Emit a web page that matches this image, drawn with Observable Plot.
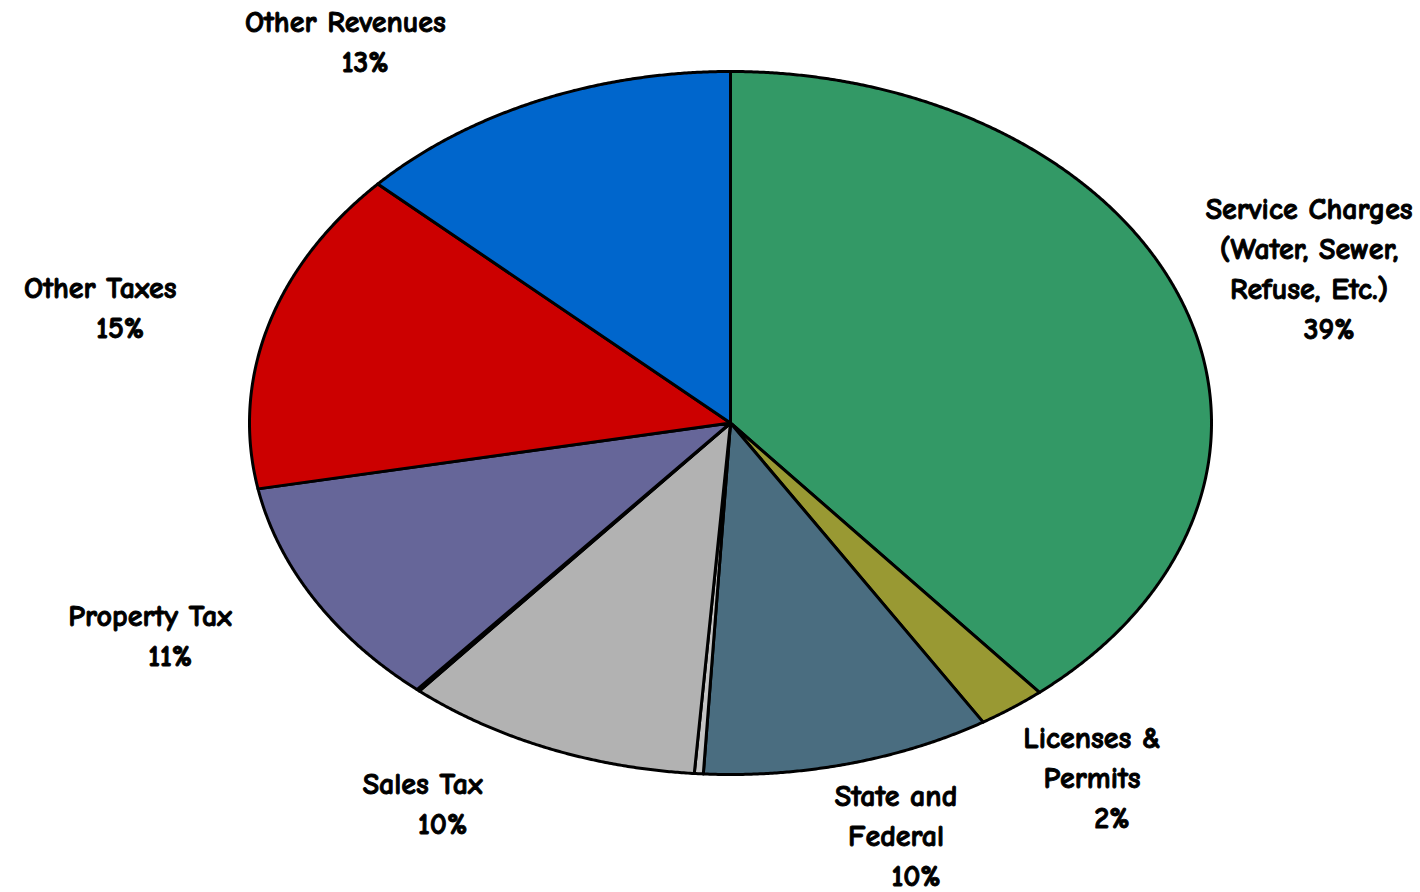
<!DOCTYPE html>
<html>
<head>
<meta charset="utf-8">
<script src="https://cdn.jsdelivr.net/npm/d3@7"></script>
<script src="https://cdn.jsdelivr.net/npm/@observablehq/plot@0.6"></script>
<style>
  html, body { margin: 0; padding: 0; background: #fff; }
  #chart svg { display: block; }
</style>
</head>
<body>
<div id="chart"></div>
<script>
// ---- data ----
const categories = [
  "Service Charges (Water, Sewer, Refuse, Etc.)",
  "Licenses & Permits",
  "State and Federal",
  "Minor 1",
  "Sales Tax",
  "Minor 2",
  "Property Tax",
  "Other Taxes",
  "Other Revenues"
];
const values = [38.9, 2.3, 9.7, 0.3, 10.0, 0.1, 10.7, 14.9, 13.1];
const labelNames = [
  "Service Charges\n(Water, Sewer,\nRefuse, Etc.)",
  "Licenses &\nPermits",
  "State and\nFederal",
  "",
  "Sales Tax",
  "",
  "Property Tax",
  "Other Taxes",
  "Other Revenues"
];
const pctLabels = ["39%", "2%", "10%", "", "10%", "", "11%", "15%", "13%"];
const colors = ["#339966", "#999933", "#4a6d80", "#c4c4c4", "#b2b2b2", "#8c8cbf", "#666699", "#cc0000", "#0066cc"];

// ---- layout ----
const W = 1420, H = 892;
const cx = 730, rx = 481, cy = 422.5, ry = 351.5;
const lineHeight = 40;
const pctDx = 20;
const fontSize = 30;
// label placement: radius (in pie radii) and angular shift (deg) from slice mid-angle
const labelRadius = [1.28, 1.26, 1.225, 0, 1.26, 0, 1.35, 1.35, 1.347];
const labelShift = [0, -0.8, -2.1, 0, 8.2, 0, 3.4, -2.1, -12.9];

const pie = d3.pie().sort(null).value(d => d)(values);

// polygon points of every slice in unit-circle coordinates
const slicePts = [];
pie.forEach((p, i) => {
  slicePts.push({key: categories[i], x: 0, y: 0});
  const n = Math.max(2, Math.ceil((p.endAngle - p.startAngle) / (Math.PI / 720)));
  for (let k = 0; k <= n; k++) {
    const a = p.startAngle + (p.endAngle - p.startAngle) * k / n;
    slicePts.push({key: categories[i], x: Math.sin(a), y: Math.cos(a)});
  }
});

// label lines
const pxPerUnitY = ry;
const labelRows = [];
pie.forEach((p, i) => {
  if (!labelNames[i]) return;
  const mid = (p.startAngle + p.endAngle) / 2 + labelShift[i] * Math.PI / 180;
  const r = labelRadius[i];
  const lx = r * Math.sin(mid), ly = r * Math.cos(mid);
  const lines = labelNames[i].split("\n").concat(pctLabels[i]);
  const n = lines.length;
  lines.forEach((t, j) => {
    labelRows.push({
      text: t,
      pct: j === n - 1,
      x: lx,
      y: ly - (j - (n - 1) / 2) * lineHeight / pxPerUnitY
    });
  });
});

const font = '"Comic Sans MS", "Comic Neue", "DejaVu Sans", sans-serif';
const textStyle = {
  fontFamily: font, fontSize, fontWeight: "bold", fill: "#000",
  stroke: "#000", strokeWidth: 0.9,
  textAnchor: "middle", lineAnchor: "middle"
};

const chart = Plot.plot({
  width: W,
  height: H,
  marginLeft: cx - rx,
  marginRight: W - (cx + rx),
  marginTop: cy - ry,
  marginBottom: H - (cy + ry),
  x: {domain: [-1, 1], axis: null},
  y: {domain: [-1, 1], axis: null},
  color: {domain: categories, range: colors},
  style: {background: "#fff", overflow: "visible"},
  marks: [
    Plot.line(slicePts, {
      x: "x", y: "y", z: "key", fill: "key",
      stroke: "#000", strokeWidth: 3, strokeLinejoin: "round",
      curve: "linear-closed"
    }),
    Plot.text(labelRows.filter(d => !d.pct), {
      x: "x", y: "y", text: "text", ...textStyle
    }),
    Plot.text(labelRows.filter(d => d.pct), {
      x: "x", y: "y", text: "text", dx: pctDx, ...textStyle
    })
  ]
});
document.getElementById("chart").appendChild(chart);
</script>
</body>
</html>
